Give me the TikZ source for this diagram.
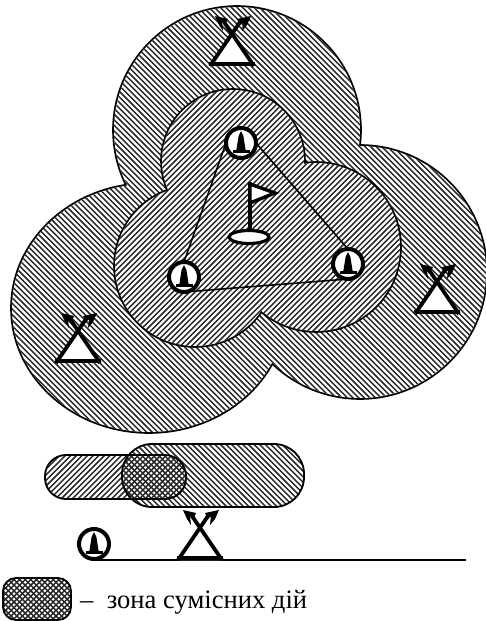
\documentclass[tikz,border=0pt]{standalone}
\usepackage{fontspec}
\setmainfont{Liberation Serif}
\newcommand{\outerzone}{(237,130) circle[radius=123] (149,308) ellipse[x radius=137,y radius=124] (360,272) circle[radius=126]}
\newcommand{\innerzone}{(233,161) circle[radius=71] (195,266) circle[radius=80] (316,247) circle[radius=84]}
\newcommand{\barleft}{[rounded corners=21] (45,455) rectangle (186,499)}
\newcommand{\barright}{[rounded corners=30] (122,444) rectangle (304,507)}
\newcommand{\legendbox}{[rounded corners=13] (3,578) rectangle (71,620)}
\newcommand{\hatchdown}{\foreach \i in {-120,...,90} {\draw[stripe] (\i*5.6,0) -- ++(621,621);}}
\newcommand{\hatchup}{\foreach \i in {0,...,210} {\draw[stripe] (\i*5.6,0) -- ++(-621,621);}}
\newcommand{\antennamast}[2]{%
\begin{scope}[shift={(#1,#2)}]
\fill[white] (-22,0) -- (0,-33) -- (22,0) -- cycle;
\draw[mast] (-23,-2) -- (23,-2);
\draw[mast] (-22,0) -- (8,-44);
\draw[mast] (22,0) -- (-8,-44);
\fill (19,-50) -- (5,-47) -- (8,-41) -- (11,-44) -- (10,-35) -- (15,-41) -- cycle;
\fill (-17,-50) -- (-4,-47) -- (-7,-41) -- (-10,-44) -- (-9,-35) -- (-13,-41) -- cycle;
\end{scope}}
\newcommand{\towericon}[1]{%
\fill (#1) ++(0,-12) -- ++(2.4,5) -- ++(2.4,15) -- ++(-9.6,0) -- ++(2.4,-15) -- cycle;
\fill (#1) ++(-8.5,7) rectangle ++(17,2.6);}
\tikzset{
  stripe/.style={black!85,line width=1.45pt},
  edgeline/.style={line width=1.8pt},
  mast/.style={line width=3.8pt},
  towernode/.style={circle,draw,fill=white,line width=4pt,minimum size=30pt,inner sep=0pt,outer sep=0pt},
  link/.style={line width=1.6pt},
  caption/.style={anchor=base west,inner sep=0pt,font=\fontsize{26.6}{30}\selectfont}
}
\begin{document}
\begin{tikzpicture}[x=1pt,y=-1pt]
\useasboundingbox (0,0) rectangle (486,621);
% outer zone
\draw[line width=3.6pt] \outerzone;
\fill[white] \outerzone;
\begin{scope}\clip \outerzone; \hatchdown \end{scope}
% inner zone
\draw[line width=3.6pt] \innerzone;
\fill[white] \innerzone;
\begin{scope}\clip \innerzone; \hatchup \end{scope}
% towers and links
\node[towernode] (t1) at (241,143) {};
\node[towernode] (t2) at (184,277) {};
\node[towernode] (t3) at (348,264) {};
\draw[link] (t1.west) -- (t2.north);
\draw[link] (t1.east) -- (t3.north);
\draw[link] (t2.south) -- (t3.south);
\towericon{t1}\towericon{t2}\towericon{t3}
% flag
\draw[line width=3.2pt,fill=white] (249,237) ellipse[x radius=20,y radius=6.5];
\draw[line width=4pt] (250,232) -- (250,182);
\draw[line width=3.4pt,fill=white,line join=miter] (250,184) -- (275,193) -- (250,203) -- cycle;
\antennamast{232}{66}
\antennamast{78}{363}
\antennamast{437}{314}
% bars
\begin{scope}\clip \barleft; \hatchup \end{scope}
\begin{scope}\clip \barright; \hatchdown \end{scope}
\draw[edgeline] \barleft;
\draw[edgeline] \barright;
% ground
\node[towernode] (t4) at (94,544) {};
\towericon{t4}
\coordinate (gend) at (466,560);
\draw[line width=2.2pt] (t4.south |- gend) -- (gend);
\antennamast{200}{560}
% legend
\begin{scope}\clip \legendbox; \hatchup \hatchdown \end{scope}
\draw[edgeline] \legendbox;
\node[caption] (cap) at (80,608) {–\hspace{0.5em}зона сумісних дій};
\end{tikzpicture}
\end{document}
